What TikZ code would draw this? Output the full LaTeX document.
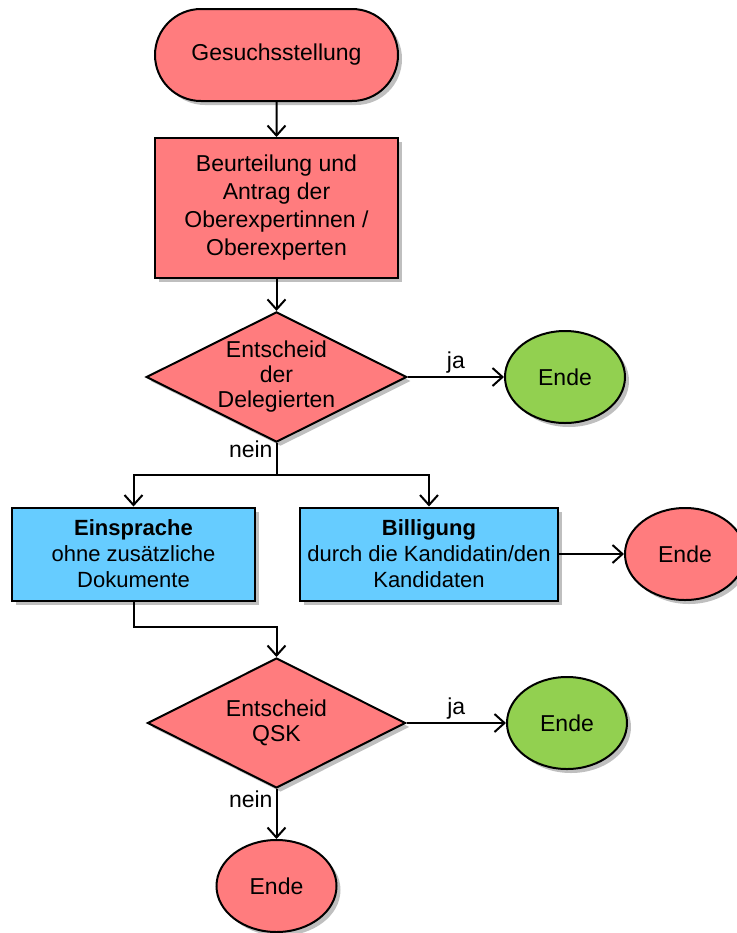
\documentclass[tikz,border=0pt]{standalone}
\usepackage{fontspec}
\setmainfont{Liberation Sans}
\usetikzlibrary{shapes.geometric,shapes.misc,shadows,arrows.meta}

\definecolor{redfill}{RGB}{255,124,126}
\definecolor{greenfill}{RGB}{146,208,80}
\definecolor{bluefill}{RGB}{102,204,255}

\tikzset{
  base/.style={draw=black, line width=1pt, align=center, inner sep=0pt,
    font=\fontsize{11.5}{14}\selectfont,
    drop shadow={shadow xshift=2pt, shadow yshift=-2pt, opacity=0.25, fill=black}},
  terminal/.style={base, rounded rectangle, fill=redfill,
    minimum width=121.5pt, minimum height=46pt},
  process/.style={base, rectangle, fill=redfill,
    minimum width=121.5pt, minimum height=70pt},
  option/.style={base, rectangle, fill=bluefill, minimum height=46.5pt,
    font=\fontsize{11}{13}\selectfont},
  decision/.style={base, diamond, aspect=2, fill=redfill,
    minimum width=129pt, minimum height=65pt,
    font=\fontsize{11.5}{12.5}\selectfont},
  ende/.style={base, ellipse, minimum width=60pt, minimum height=46pt},
  arrow/.style={line width=1pt, -{Straight Barb[length=5pt,width=9pt,line width=1pt]}},
  link/.style={line width=1pt},
  tag/.style={font=\fontsize{11.5}{14}\selectfont, inner sep=1.5pt}
}

\begin{document}
\begin{tikzpicture}[x=0.5pt, y=-0.5pt]
\useasboundingbox (0,0) rectangle (737,933);

% Start and assessment
\node[terminal] (start) at (276.5,55) {Gesuchsstellung};
\node[process] (assess) at (276.5,208) {Beurteilung und\\Antrag der\\Oberexpertinnen /\\Oberexperten};

% First decision
\node[decision] (dec1) at (276.5,377) {Entscheid\\der\\Delegierten};
\node[ende, fill=greenfill] (end1) at (565,377) {Ende};

% Two options
\node[option, minimum width=121.5pt] (objection) at (133.5,554) {\textbf{Einsprache}\\ohne zusätzliche\\Dokumente};
\node[option, minimum width=129pt] (approval) at (429,554) {\textbf{Billigung}\\durch die Kandidatin/den\\Kandidaten};
\node[ende, fill=redfill] (end2) at (685,554) {Ende};

% Second decision
\node[decision] (dec2) at (276.5,723) {Entscheid\\QSK};
\node[ende, fill=greenfill] (end3) at (567,723) {Ende};
\node[ende, fill=redfill] (end4) at (276.5,886) {Ende};

% Branch points
\coordinate (fork1) at (276.5,475);
\coordinate (fork2) at (133.5,627);

% Connectors
\draw[arrow] (start) -- (assess);
\draw[arrow] (assess) -- (dec1);
\draw[arrow] (dec1.east) -- node[tag, above] {ja} (end1);
\draw[link] (dec1.south) -- node[tag, pos=0, anchor=north east, yshift=3pt] {nein} (fork1);
\draw[arrow] (fork1) -| (objection.north);
\draw[arrow] (fork1) -| (approval.north);
\draw[arrow] (approval.east) -- (end2);
\draw[arrow] (objection.south) -- (fork2) -| (dec2.north);
\draw[arrow] (dec2.east) -- node[tag, above] {ja} (end3);
\draw[arrow] (dec2.south) -- node[tag, pos=0, anchor=north east, yshift=1pt] {nein} (end4);
\end{tikzpicture}
\end{document}
